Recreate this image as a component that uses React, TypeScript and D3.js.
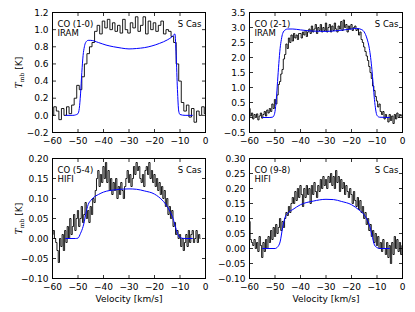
import React, { useEffect, useRef } from 'react';
import * as d3 from 'd3';

const VEL_DOMAIN = [-60, 0];
const VEL_TICKS = [-60, -50, -40, -30, -20, -10, 0];

// CO (1-0), IRAM - 1 km/s channels starting at -60 km/s
const CO10_START = -60;
const CO10_STEP = 1;
const CO10_OBS = [
  0.0, 0.1, 0.05, -0.05, 0.08, 0.0, 0.1, 0.02, 0.12, 0.2,
  0.35, 0.3, 0.45, 0.6, 0.72, 0.8, 0.85, 0.98, 1.05, 0.95,
  1.1, 1.02, 1.12, 1.0, 1.08, 0.98, 1.05, 0.96, 1.12, 1.0,
  0.96, 1.08, 1.02, 1.15, 0.98, 1.05, 1.15, 0.95, 1.1, 1.0,
  1.08, 0.98, 1.05, 1.1, 0.95, 1.0, 0.98, 0.92, 0.85, 0.6,
  0.4, 0.15, 0.05, 0.12, -0.02, 0.08, -0.08, 0.05, 0.0, 0.1,
  0.02,
];
const CO10_MODEL_V = [-55, -52, -51, -50, -49.5, -49, -48.5, -48, -47.5, -47, -46, -45, -42, -39, -36, -33, -30, -27, -24, -21, -18, -15, -13, -12, -11.5, -11, -10.5, -10, -8, -5];
const CO10_MODEL_T = [0, 0, 0.005, 0.02, 0.08, 0.25, 0.5, 0.7, 0.8, 0.85, 0.875, 0.875, 0.85, 0.82, 0.8, 0.785, 0.775, 0.78, 0.79, 0.81, 0.84, 0.88, 0.92, 0.95, 0.7, 0.3, 0.05, 0.01, 0, 0];

// CO (2-1), IRAM - 0.5 km/s channels
const CO21_START = -60;
const CO21_STEP = 0.5;
const CO21_OBS = [
  0.3, 0.05, 0.15, -0.05, 0.1, 0.0, 0.12, -0.08, 0.05, 0.15,
  -0.02, 0.1, 0.2, 0.05, 0.25, 0.15, 0.3, 0.2, 0.45, 0.3,
  0.6, 0.45, 0.75, 1.1, 1.2, 1.45, 1.6, 1.95, 2.1, 2.45,
  2.3, 2.65, 2.5, 2.75, 2.55, 2.8, 2.65, 2.75, 2.6, 2.8,
  2.8, 2.65, 2.85, 2.75, 2.9, 2.7, 2.85, 2.95, 2.8, 3.05,
  2.85, 2.95, 3.1, 2.8, 3.0, 2.9, 3.1, 2.85, 3.0, 2.9,
  3.15, 2.85, 3.0, 3.1, 2.85, 3.05, 2.9, 3.15, 2.95, 2.85,
  3.05, 2.95, 3.2, 2.9, 3.25, 3.0, 3.1, 2.85, 3.05, 2.95,
  3.1, 2.9, 3.0, 3.05, 2.9, 2.95, 2.75, 2.85, 2.6, 2.5,
  2.35, 2.2, 2.05, 1.9, 1.7, 1.5, 1.3, 1.05, 0.9, 0.7,
  0.55, 0.35, 0.45, 0.2, 0.1, 0.2, -0.05, 0.1, 0.0, -0.15,
  0.1, -0.1, 0.05, -0.2, 0.1, -0.05, 0.15, 0.0, 0.1, 0.05,
  0.1,
];
const CO21_MODEL_V = [-55, -52, -51, -50.5, -50, -49.5, -49, -48.5, -48, -47.5, -47, -46, -45, -43, -40, -35, -30, -25, -20, -18, -16, -15, -14, -13, -12.5, -12, -11.5, -11, -10.5, -10, -9, -5];
const CO21_MODEL_T = [0, 0, 0.01, 0.05, 0.2, 0.6, 1.2, 1.8, 2.3, 2.6, 2.8, 2.92, 2.95, 2.95, 2.92, 2.88, 2.87, 2.9, 2.95, 2.97, 2.93, 2.85, 2.65, 2.3, 2.0, 1.6, 1.1, 0.6, 0.25, 0.07, 0.01, 0];

// CO (5-4), HIFI
const CO54_START = -60;
const CO54_STEP = 0.5;
const CO54_OBS = [
  0.01, 0.02, 0.0, -0.01, -0.03, -0.06, 0.0, -0.02, 0.01, -0.03,
  0.02, -0.01, 0.03, 0.0, 0.05, 0.01, 0.03, 0.06, 0.02, 0.05,
  0.07, 0.03, 0.05, 0.08, 0.04, 0.06, 0.09, 0.05, 0.07, 0.04,
  0.08, 0.06, 0.10, 0.09, 0.12, 0.15, 0.17, 0.13, 0.16, 0.14,
  0.18, 0.15, 0.19, 0.14, 0.17, 0.12, 0.15, 0.11, 0.14, 0.12,
  0.15, 0.10, 0.13, 0.11, 0.14, 0.12, 0.10, 0.13, 0.15, 0.17,
  0.14, 0.16, 0.13, 0.15, 0.18, 0.16, 0.19, 0.17, 0.18, 0.15,
  0.14, 0.16, 0.13, 0.17, 0.18, 0.16, 0.19, 0.15, 0.17, 0.14,
  0.16, 0.13, 0.15, 0.12, 0.14, 0.11, 0.13, 0.10, 0.12, 0.08,
  0.10, 0.06, 0.08, 0.05, 0.07, 0.03, 0.04, 0.01, 0.02, 0.0,
  0.01, -0.02, 0.0, -0.03, -0.01, 0.01, -0.02, 0.02, -0.01, 0.01,
  0.02, -0.01, 0.0, 0.02, -0.01, 0.01, 0.0,
];
const CO54_MODEL_V = [-55, -51, -50, -49, -48, -47.5, -47, -46, -45, -44, -42, -40, -35, -30, -27, -24, -20, -17, -15, -14, -13, -12, -11, -10, -8, -5];
const CO54_MODEL_T = [0, 0, 0.001, 0.013, 0.03, 0.043, 0.06, 0.085, 0.095, 0.102, 0.11, 0.116, 0.122, 0.124, 0.123, 0.119, 0.111, 0.096, 0.08, 0.068, 0.055, 0.034, 0.013, 0.002, 0, 0];

// CO (9-8), HIFI
const CO98_START = -60;
const CO98_STEP = 0.5;
const CO98_OBS = [
  0.09, 0.03, 0.02, 0.01, 0.03, 0.0, 0.02, -0.01, 0.04, 0.01,
  -0.03, 0.02, -0.01, 0.03, 0.0, 0.04, 0.02, 0.06, 0.03, 0.07,
  0.04, 0.08, 0.05, 0.07, 0.10, 0.06, 0.09, 0.07, 0.10, 0.12,
  0.11, 0.14, 0.12, 0.15, 0.17, 0.15, 0.19, 0.16, 0.20, 0.17,
  0.21, 0.18, 0.14, 0.20, 0.17, 0.21, 0.18, 0.20, 0.15, 0.21,
  0.18, 0.22, 0.19, 0.17, 0.21, 0.19, 0.23, 0.20, 0.24, 0.21,
  0.23, 0.20, 0.24, 0.22, 0.25, 0.21, 0.24, 0.20, 0.26, 0.22,
  0.24, 0.19, 0.23, 0.20, 0.22, 0.18, 0.21, 0.19, 0.17, 0.20,
  0.18, 0.15, 0.19, 0.16, 0.14, 0.17, 0.13, 0.16, 0.12, 0.14,
  0.10, 0.12, 0.08, 0.10, 0.06, 0.08, 0.04, 0.06, 0.02, 0.05,
  0.01, 0.04, 0.0, 0.02, -0.01, 0.03, 0.0, -0.02, 0.02, -0.03,
  0.01, -0.05, 0.02, -0.02, 0.04, 0.0, 0.03, -0.01, 0.02, -0.02,
  0.01,
];
const CO98_MODEL_V = [-55, -50, -49, -48, -47, -46, -45, -43, -40, -35, -30, -27, -24, -20, -17, -15, -14, -13, -12, -11, -10, -9, -5];
const CO98_MODEL_T = [0, 0, 0.005, 0.022, 0.07, 0.105, 0.118, 0.13, 0.146, 0.158, 0.164, 0.163, 0.157, 0.146, 0.128, 0.112, 0.098, 0.079, 0.045, 0.012, 0.003, 0, 0];

const PANELS = [
  { line: 'CO (1-0)', tel: 'IRAM', start: CO10_START, step: CO10_STEP, obs: CO10_OBS, mv: CO10_MODEL_V, mt: CO10_MODEL_T, yDomain: [-0.2, 1.2], yTicks: [-0.2, 0, 0.2, 0.4, 0.6, 0.8, 1.0, 1.2], fmt: '.1f', col: 0, row: 0 },
  { line: 'CO (2-1)', tel: 'IRAM', start: CO21_START, step: CO21_STEP, obs: CO21_OBS, mv: CO21_MODEL_V, mt: CO21_MODEL_T, yDomain: [-0.5, 3.5], yTicks: [-0.5, 0, 0.5, 1.0, 1.5, 2.0, 2.5, 3.0, 3.5], fmt: '.1f', col: 1, row: 0 },
  { line: 'CO (5-4)', tel: 'HIFI', start: CO54_START, step: CO54_STEP, obs: CO54_OBS, mv: CO54_MODEL_V, mt: CO54_MODEL_T, yDomain: [-0.1, 0.2], yTicks: [-0.1, -0.05, 0, 0.05, 0.1, 0.15, 0.2], fmt: '.2f', col: 0, row: 1 },
  { line: 'CO (9-8)', tel: 'HIFI', start: CO98_START, step: CO98_STEP, obs: CO98_OBS, mv: CO98_MODEL_V, mt: CO98_MODEL_T, yDomain: [-0.1, 0.3], yTicks: [-0.1, -0.05, 0, 0.05, 0.1, 0.15, 0.2, 0.25, 0.3], fmt: '.2f', col: 1, row: 1 },
];

const App: React.FC = () => {
  const ref = useRef<SVGSVGElement>(null);

  useEffect(() => {
    if (!ref.current) return;
    const svg = d3.select(ref.current);
    svg.selectAll('*').remove();

    const colX = [52.5, 249.5];
    const rowY = [12.5, 158.5];
    const pw = 153;
    const ph = 120;
    const tickLen = 3.5;
    const font = 'DejaVu Sans, sans-serif';

    PANELS.forEach((p, i) => {
      const g = svg.append('g').attr('transform', `translate(${colX[p.col]},${rowY[p.row]})`);
      const x = d3.scaleLinear().domain(VEL_DOMAIN).range([0, pw]);
      const y = d3.scaleLinear().domain(p.yDomain).range([ph, 0]);

      g.append('clipPath').attr('id', `clip${i}`)
        .append('rect').attr('width', pw).attr('height', ph);

      const obsPts = p.obs.map((t, k) => [p.start + k * p.step, t] as [number, number]);
      const modelPts = p.mv.map((v, k) => [v, p.mt[k]] as [number, number]);

      // observed spectrum, steps-mid
      g.append('path')
        .datum(obsPts)
        .attr('clip-path', `url(#clip${i})`)
        .attr('d', d3.line().x(d => x(d[0])).y(d => y(d[1])).curve(d3.curveStep) as any)
        .attr('fill', 'none')
        .attr('stroke', '#000')
        .attr('stroke-width', 0.9);

      // model
      g.append('path')
        .datum(modelPts)
        .attr('clip-path', `url(#clip${i})`)
        .attr('d', d3.line().x(d => x(d[0])).y(d => y(d[1])).curve(d3.curveMonotoneX) as any)
        .attr('fill', 'none')
        .attr('stroke', '#0000ff')
        .attr('stroke-width', 1);

      // ticks, inward on all sides
      VEL_TICKS.forEach(v => {
        const xv = x(v);
        g.append('line').attr('x1', xv).attr('x2', xv).attr('y1', ph).attr('y2', ph - tickLen).attr('stroke', '#000').attr('stroke-width', 0.8);
        g.append('line').attr('x1', xv).attr('x2', xv).attr('y1', 0).attr('y2', tickLen).attr('stroke', '#000').attr('stroke-width', 0.8);
        g.append('text')
          .attr('x', xv).attr('y', ph + 11)
          .attr('text-anchor', 'middle')
          .style('font-family', font).style('font-size', '9px')
          .text(d3.format('d')(v));
      });
      const fy = d3.format(p.fmt);
      p.yTicks.forEach(t => {
        const yv = y(t);
        g.append('line').attr('x1', 0).attr('x2', tickLen).attr('y1', yv).attr('y2', yv).attr('stroke', '#000').attr('stroke-width', 0.8);
        g.append('line').attr('x1', pw).attr('x2', pw - tickLen).attr('y1', yv).attr('y2', yv).attr('stroke', '#000').attr('stroke-width', 0.8);
        g.append('text')
          .attr('x', -4).attr('y', yv + 3.2)
          .attr('text-anchor', 'end')
          .style('font-family', font).style('font-size', '9px')
          .text(fy(t));
      });

      g.append('rect').attr('width', pw).attr('height', ph)
        .attr('fill', 'none').attr('stroke', '#000').attr('stroke-width', 1);

      // labels inside the box
      g.append('text').attr('x', 5).attr('y', 14)
        .style('font-family', font).style('font-size', '8.5px').text(p.line);
      g.append('text').attr('x', 5).attr('y', 23.5)
        .style('font-family', font).style('font-size', '8.5px').text(p.tel);
      g.append('text').attr('x', pw - 4).attr('y', 14).attr('text-anchor', 'end')
        .style('font-family', font).style('font-size', '8.5px').text('S Cas');

      if (p.row === 1) {
        g.append('text').attr('x', pw / 2).attr('y', ph + 23.5)
          .attr('text-anchor', 'middle')
          .style('font-family', font).style('font-size', '9px')
          .text('Velocity [km/s]');
      }
      if (p.col === 0) {
        const lab = g.append('text')
          .attr('transform', `translate(-31,${ph / 2}) rotate(-90)`)
          .attr('text-anchor', 'middle')
          .style('font-size', '9px');
        lab.append('tspan').style('font-family', 'DejaVu Serif, serif').style('font-style', 'italic').text('T');
        lab.append('tspan').style('font-family', 'DejaVu Serif, serif').style('font-size', '6px').attr('dy', 2).text('mb');
        lab.append('tspan').style('font-family', font).attr('dy', -2).text(' [K]');
      }
    });
  }, []);

  return (
    <svg
      ref={ref}
      width={415}
      height={312}
      style={{ position: 'absolute', left: 0, top: 0, background: '#fff' }}
    />
  );
};

export default App;
